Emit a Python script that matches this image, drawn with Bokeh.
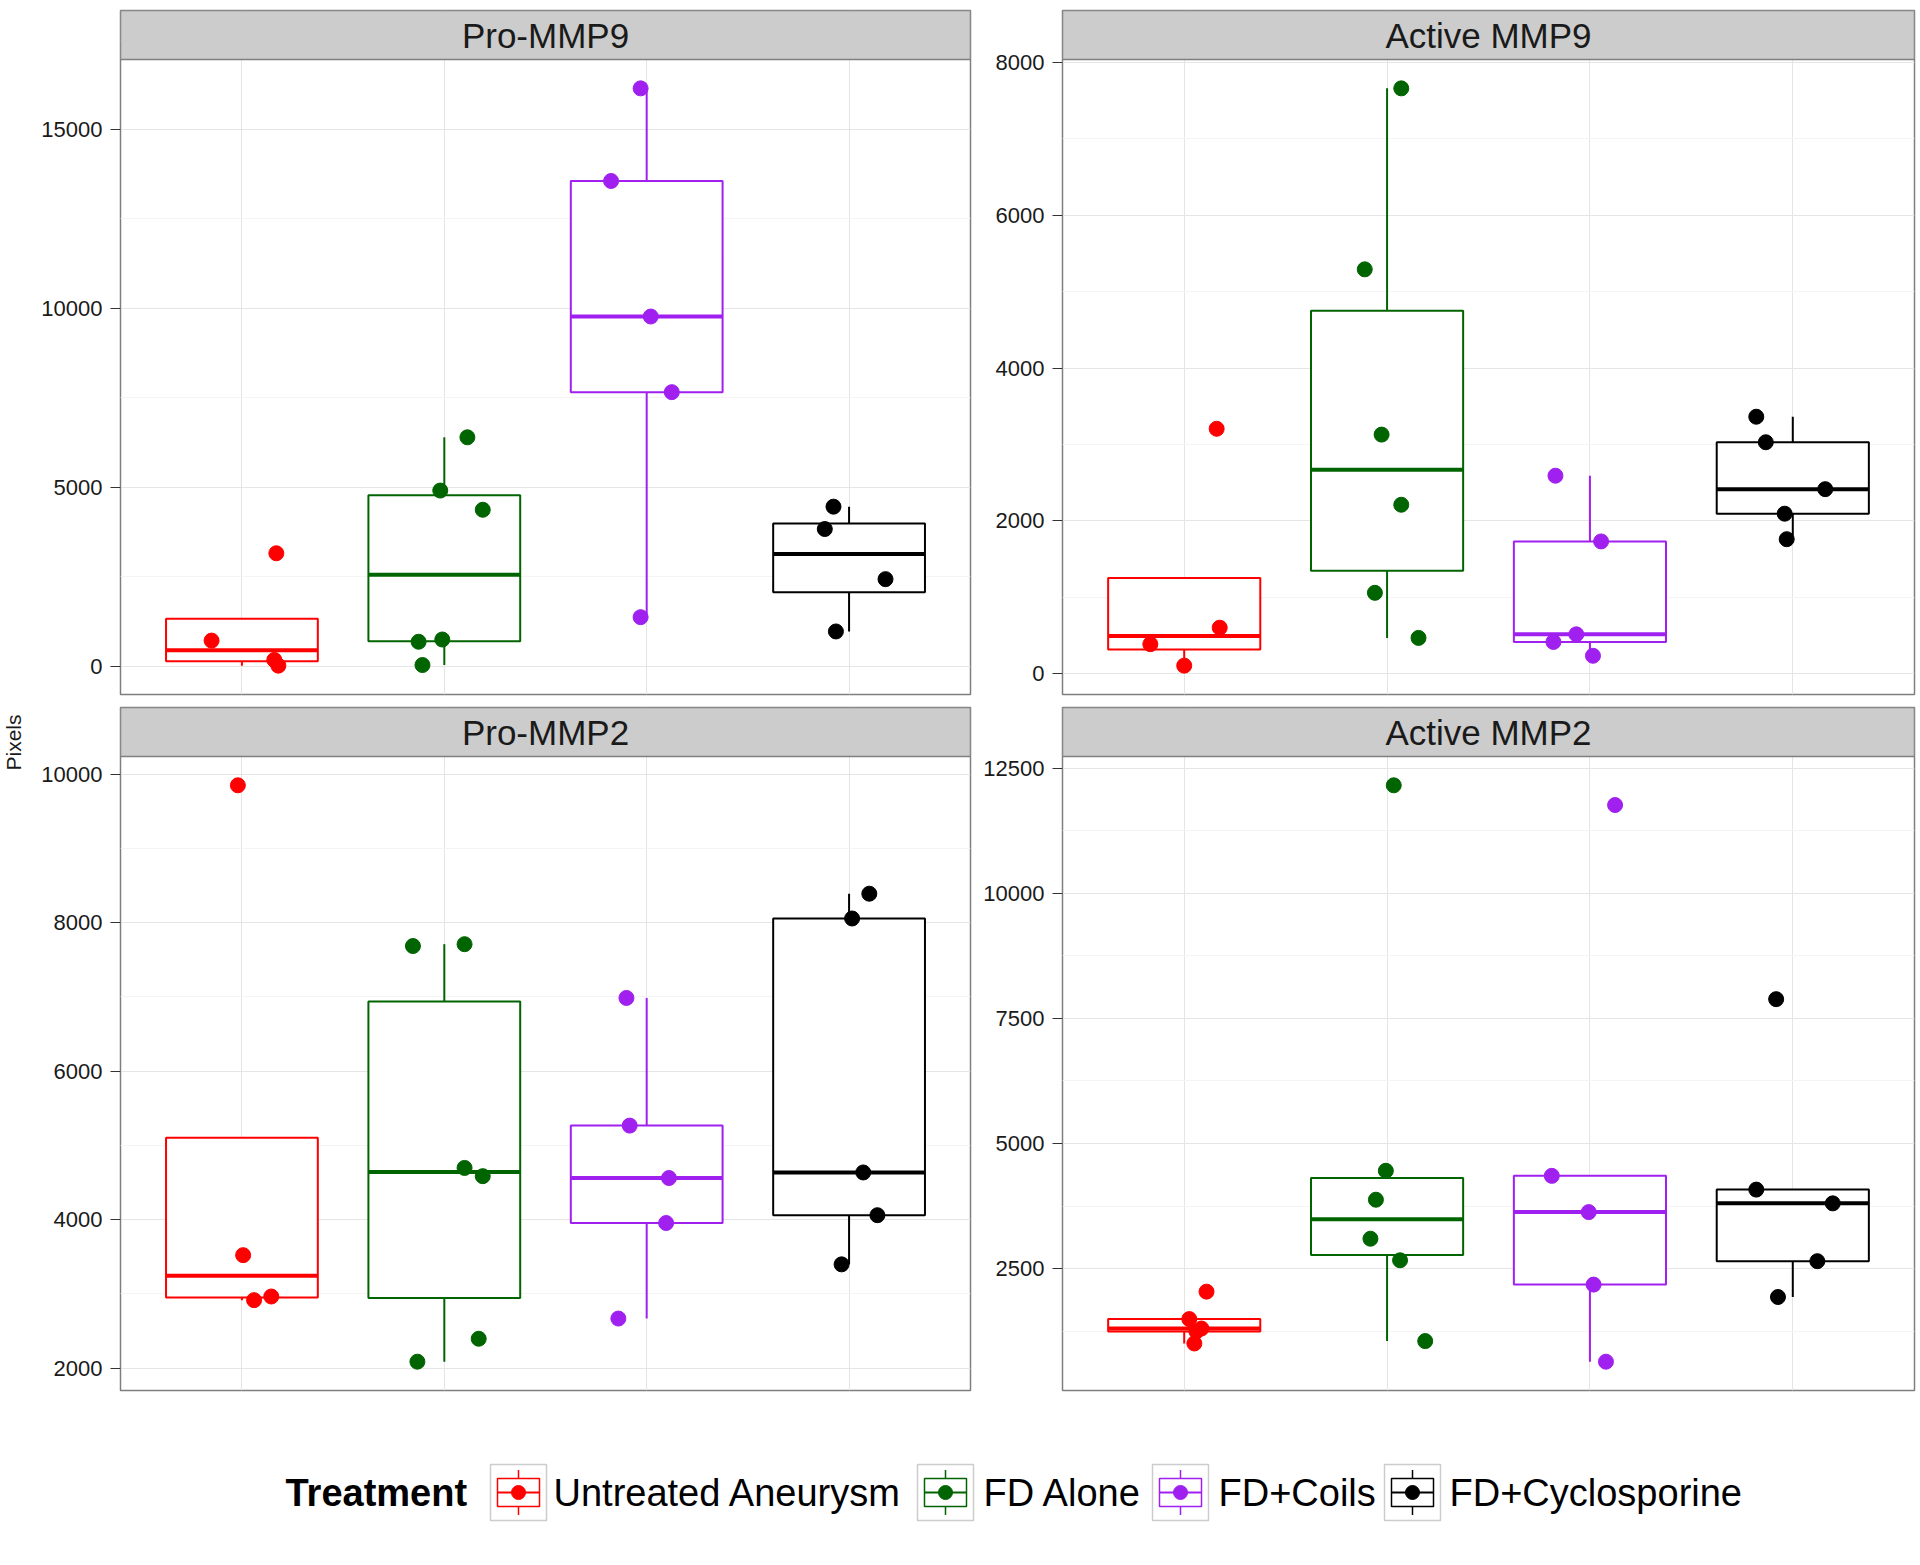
import numpy as np
from bokeh.plotting import figure
from bokeh.layouts import column, row
from bokeh.models import Range1d, FixedTicker, ColumnDataSource
from bokeh.core.properties import value
from bokeh.embed import file_html
from bokeh.resources import INLINE

FONT = "Liberation Sans"

# ---------------- data ----------------
treatments = ["Untreated Aneurysm", "FD Alone", "FD+Coils", "FD+Cyclosporine"]
colors = ["#FF0000", "#006400", "#A020F0", "#000000"]
panel_names = ["Pro-MMP9", "Active MMP9", "Pro-MMP2", "Active MMP2"]

pro_mmp9_values = [
    [720, 3160, 180, 20],
    [6400, 4912, 4375, 687, 750, 37],
    [16150, 13562, 9775, 7662, 1375],
    [4462, 3837, 2437, 975],
]
pro_mmp9_jitter = [
    [-0.15, 0.17, 0.16, 0.18],
    [0.114, -0.02, 0.19, -0.127, -0.01, -0.108],
    [-0.03, -0.176, 0.02, 0.124, -0.03],
    [-0.077, -0.12, 0.18, -0.065],
]

active_mmp9_values = [
    [3205, 602, 386, 105],
    [7661, 5292, 3129, 2211, 1058, 468],
    [2591, 1731, 515, 415, 234],
    [3363, 3029, 2415, 2094, 1760],
]
active_mmp9_jitter = [
    [0.16, 0.175, -0.167, 0.0],
    [0.07, -0.11, -0.027, 0.07, -0.06, 0.155],
    [-0.17, 0.055, -0.067, -0.18, 0.015],
    [-0.18, -0.133, 0.16, -0.04, -0.03],
]

pro_mmp2_values = [
    [9851, 3522, 2916, 2965],
    [7686, 7711, 4697, 4586, 2396, 2087],
    [6987, 5267, 4561, 3955, 2668],
    [8391, 8057, 4636, 4060, 3398],
]
pro_mmp2_jitter = [
    [-0.02, 0.006, 0.06, 0.145],
    [-0.155, 0.1, 0.1, 0.19, 0.17, -0.133],
    [-0.1, -0.084, 0.11, 0.096, -0.14],
    [0.1, 0.015, 0.07, 0.14, -0.037],
]

active_mmp2_values = [
    [2038, 1490, 1301, 1241, 1002],
    [12160, 4454, 3876, 3096, 2665, 1050],
    [11766, 4353, 3628, 2179, 638],
    [7885, 4078, 3803, 2647, 1931],
]
active_mmp2_jitter = [
    [0.11, 0.025, 0.085, 0.06, 0.05],
    [0.033, -0.006, -0.055, -0.082, 0.064, 0.188],
    [0.124, -0.188, -0.006, 0.018, 0.079],
    [-0.082, -0.18, 0.197, 0.121, -0.073],
]

pro_mmp9_ticks = [0, 5000, 10000, 15000]
active_mmp9_ticks = [0, 2000, 4000, 6000, 8000]
pro_mmp2_ticks = [2000, 4000, 6000, 8000, 10000]
active_mmp2_ticks = [2500, 5000, 7500, 10000, 12500]

y_label = "Pixels"
legend_title = "Treatment"

# ---------------- helpers ----------------
GRID_MAJOR = "#E5E5E5"
GRID_MINOR = "#F4F4F4"
BORDER = "#7F7F7F"
STRIP_FILL = "#CCCCCC"
BOX_W = 0.75
X_LO, X_HI = 0.4, len(treatments) + 0.6


def box_stats(v):
    v = np.asarray(v, dtype=float)
    q1, med, q3 = np.percentile(v, [25, 50, 75])
    iqr = q3 - q1
    ok = v[(v >= q1 - 1.5 * iqr) & (v <= q3 + 1.5 * iqr)]
    lo = min(q1, ok.min())
    hi = max(q3, ok.max())
    return q1, med, q3, lo, hi


def minor_from_major(ticks):
    step = ticks[1] - ticks[0]
    ext = [ticks[0] - step] + list(ticks) + [ticks[-1] + step]
    return [(a + b) / 2 for a, b in zip(ext[:-1], ext[1:])]


def panel_fig(name, values, jitter, ticks, width, mb_left, mb_right,
              mb_top, strip_px, panel_px, mb_bottom):
    allv = np.concatenate([np.asarray(v, float) for v in values])
    lo, hi = allv.min(), allv.max()
    pad = 0.05 * (hi - lo)
    y0, y1 = lo - pad, hi + pad
    dpp = (y1 - y0) / panel_px           # data units per screen pixel
    y_top = y1 + strip_px * dpp          # strip sits above the data area
    p = figure(width=width, height=mb_top + strip_px + panel_px + mb_bottom,
               output_backend="svg", toolbar_location=None,
               x_range=Range1d(X_LO, X_HI), y_range=Range1d(y0, y_top),
               min_border_left=mb_left, min_border_right=mb_right,
               min_border_top=mb_top, min_border_bottom=mb_bottom)
    p.background_fill_color = "white"
    p.border_fill_color = "white"
    p.outline_line_color = BORDER
    p.outline_line_width = 1.5

    xt = FixedTicker(ticks=list(range(1, len(treatments) + 1)), minor_ticks=[])
    p.xaxis.ticker = xt
    p.xaxis.visible = False
    p.xgrid.ticker = xt
    p.xgrid.grid_line_color = GRID_MAJOR
    p.xgrid.grid_line_width = 1

    yt = FixedTicker(ticks=ticks, minor_ticks=minor_from_major(ticks))
    p.yaxis.ticker = yt
    p.ygrid.ticker = yt
    p.ygrid.grid_line_color = GRID_MAJOR
    p.ygrid.minor_grid_line_color = GRID_MINOR
    p.yaxis.axis_line_color = None
    p.yaxis.major_tick_line_color = "#333333"
    p.yaxis.major_tick_out = 10
    p.yaxis.major_tick_in = 0
    p.yaxis.minor_tick_out = 0
    p.yaxis.minor_tick_in = 0
    p.yaxis.major_label_text_font = FONT
    p.yaxis.major_label_text_font_size = "22px"
    p.yaxis.major_label_text_color = "#1A1A1A"
    p.yaxis.major_label_standoff = 8

    for i, vals in enumerate(values):
        xc = i + 1
        c = colors[i]
        q1, med, q3, wlo, whi = box_stats(vals)
        p.segment(x0=[xc, xc], y0=[q3, q1], x1=[xc, xc], y1=[whi, wlo],
                  line_color=c, line_width=2)
        p.quad(left=[xc - BOX_W / 2], right=[xc + BOX_W / 2], bottom=[q1], top=[q3],
               fill_color="white", line_color=c, line_width=2)
        p.segment(x0=[xc - BOX_W / 2], y0=[med], x1=[xc + BOX_W / 2], y1=[med],
                  line_color=c, line_width=4)
    for i, (vals, jit) in enumerate(zip(values, jitter)):
        src = ColumnDataSource(dict(x=[i + 1 + j for j in jit], y=list(vals)))
        p.scatter("x", "y", source=src, size=15, marker="circle",
                  fill_color=colors[i], line_color=colors[i])

    # facet strip (grey header) occupying the extra range above the data
    p.quad(left=[X_LO], right=[X_HI], bottom=[y1], top=[y_top],
           fill_color=STRIP_FILL, line_color=BORDER, line_width=1.5)
    p.text(x=[(X_LO + X_HI) / 2], y=[(y1 + y_top) / 2], text=[name],
           text_align="center", text_baseline="middle", text_font=value(FONT),
           text_font_size="35px", text_color="#1A1A1A")
    return p


# ---------------- layout (page pixels, origin top-left) ----------------
YLAB_W = 38
LEFT_W, L_MB_L, L_MB_R = 938, 80, 6
RIGHT_W, R_MB_L, R_MB_R = 942, 86, 4
STRIP_PX = 49

panel_tl = panel_fig(panel_names[0], pro_mmp9_values, pro_mmp9_jitter, pro_mmp9_ticks,
                     LEFT_W, L_MB_L, L_MB_R, 10, STRIP_PX, 635, 12)
panel_tr = panel_fig(panel_names[1], active_mmp9_values, active_mmp9_jitter, active_mmp9_ticks,
                     RIGHT_W, R_MB_L, R_MB_R, 10, STRIP_PX, 635, 12)
panel_bl = panel_fig(panel_names[2], pro_mmp2_values, pro_mmp2_jitter, pro_mmp2_ticks,
                     LEFT_W, L_MB_L, L_MB_R, 1, STRIP_PX, 634, 10)
panel_br = panel_fig(panel_names[3], active_mmp2_values, active_mmp2_jitter, active_mmp2_ticks,
                     RIGHT_W, R_MB_L, R_MB_R, 1, STRIP_PX, 634, 10)

TOTAL_H = (10 + STRIP_PX + 635 + 12) + (1 + STRIP_PX + 634 + 10)

# y-axis title strip
ylab = figure(width=YLAB_W, height=TOTAL_H, output_backend="svg", toolbar_location=None,
              x_range=Range1d(0, YLAB_W), y_range=Range1d(TOTAL_H, 0), min_border=0)
ylab.axis.visible = False
ylab.grid.visible = False
ylab.outline_line_color = None
ylab.text(x=[13], y=[742], text=[y_label], angle=np.pi / 2, text_align="center",
          text_baseline="middle", text_font=value(FONT), text_font_size="21px",
          text_color="#1A1A1A")

# legend
LEG_TOP = TOTAL_H
LEG_H = 140
FULL_W = YLAB_W + LEFT_W + RIGHT_W
leg = figure(width=FULL_W, height=LEG_H, output_backend="svg", toolbar_location=None,
             x_range=Range1d(0, FULL_W), y_range=Range1d(LEG_TOP + LEG_H, LEG_TOP),
             min_border=0)
leg.axis.visible = False
leg.grid.visible = False
leg.outline_line_color = None

LEG_CY = 1492
KEY = 56
title_x = 285
key_lefts = [490, 917, 1152, 1384]
label_xs = [553, 983, 1218, 1449]

leg.text(x=[title_x], y=[LEG_CY], text=[legend_title], text_align="left", text_baseline="middle",
         text_font=value(FONT), text_font_size="38px", text_font_style="bold", text_color="black")
for i, name in enumerate(treatments):
    kl = key_lefts[i]
    cx = kl + KEY / 2
    top = LEG_CY - KEY / 2
    c = colors[i]
    leg.quad(left=[kl], right=[kl + KEY], top=[top], bottom=[top + KEY],
             fill_color="white", line_color="#CCCCCC", line_width=1.5)
    leg.segment(x0=[cx, cx], y0=[top + 0.1 * KEY, top + 0.75 * KEY],
                x1=[cx, cx], y1=[top + 0.25 * KEY, top + 0.9 * KEY], line_color=c, line_width=1.5)
    leg.quad(left=[cx - 0.375 * KEY], right=[cx + 0.375 * KEY], top=[top + 0.25 * KEY],
             bottom=[top + 0.75 * KEY], fill_color="white", line_color=c, line_width=1.5)
    leg.segment(x0=[cx - 0.375 * KEY], y0=[LEG_CY], x1=[cx + 0.375 * KEY], y1=[LEG_CY],
                line_color=c, line_width=2)
    leg.scatter(x=[cx], y=[LEG_CY], size=14, marker="circle", fill_color=c, line_color=c)
    leg.text(x=[label_xs[i]], y=[LEG_CY], text=[name], text_align="left", text_baseline="middle",
             text_font=value(FONT), text_font_size="38px", text_color="black")

left_col = column(panel_tl, panel_bl)
right_col = column(panel_tr, panel_br)
top_row = row(ylab, left_col, right_col)
layout = column(top_row, leg)

open("out.html", "w").write(file_html(layout, INLINE))
